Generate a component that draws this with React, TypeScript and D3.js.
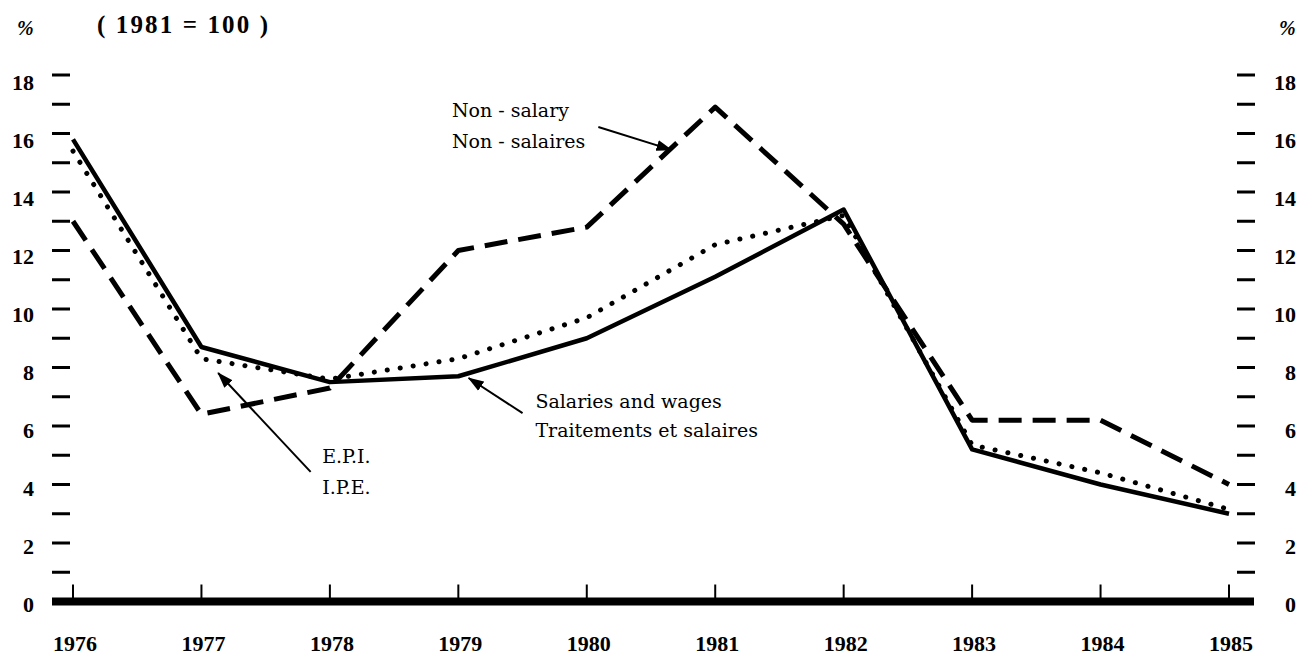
import React from 'react';
import * as d3 from 'd3';

// Annual % change (1981 = 100)
const years = [1976, 1977, 1978, 1979, 1980, 1981, 1982, 1983, 1984, 1985];
const salaries = [15.8, 8.7, 7.5, 7.7, 9.0, 11.1, 13.4, 5.2, 4.0, 3.0];
const epi = [15.4, 8.3, 7.6, 8.3, 9.7, 12.2, 13.2, 5.35, 4.4, 3.15];
const nonSalary = [13.0, 6.4, 7.3, 12.0, 12.8, 16.9, 12.9, 6.2, 6.2, 4.0];

const yLabels = [0, 2, 4, 6, 8, 10, 12, 14, 16, 18];

// annotation anchors in data space: [year, value]
const notes = [
  { lines: ['Non - salary', 'Non - salaires'], text: [1978.95, 16.56], lineGap: 1.06, tail: [1980.09, 16.22], tip: [1980.66, 15.44] },
  { lines: ['Salaries and wages', 'Traitements et salaires'], text: [1979.6, 6.62], lineGap: 1.0, tail: [1979.5, 6.44], tip: [1979.08, 7.64] },
  { lines: ['E.P.I.', 'I.P.E.'], text: [1977.94, 4.74], lineGap: 1.08, tail: [1977.85, 4.43], tip: [1977.13, 7.81] },
];

const W = 1298;
const H = 657;
const numFont = '"Liberation Serif", "Times New Roman", serif';
const noteFont = '"DejaVu Serif", serif';

export default function App() {
  const x = d3.scaleLinear().domain([1976, 1985]).range([73, 1229]);
  const y = d3.scaleLinear().domain([0, 18]).range([601.5, 75]);
  // labels sit slightly below their tick dashes in the original
  const yLab = d3.scaleLinear().domain([0, 18]).range([612, 90]);

  const line = d3.line<number>()
    .x((_, i) => x(years[i]))
    .y(d => y(d));

  const minor = y.ticks(18).filter(t => t > 0);

  return (
    <svg width={W} height={H} style={{ position: 'absolute', left: 0, top: 0, background: '#fff' }}>
      <defs>
        <marker id="head" markerUnits="userSpaceOnUse" viewBox="0 -6 16 12" refX={15} refY={0}
          markerWidth={16} markerHeight={12} orient="auto">
          <path d="M0,-5.5L16,0L0,5.5Z" fill="#000" />
        </marker>
      </defs>

      {/* header */}
      <text x={17} y={35} fontFamily={numFont} fontWeight="bold" fontStyle="italic" fontSize={20}>%</text>
      <text x={1279} y={35} fontFamily={numFont} fontWeight="bold" fontStyle="italic" fontSize={20}>%</text>
      <text x={97} y={33} fontFamily={numFont} fontWeight="bold" fontSize={25} textLength={171}
        lengthAdjust="spacing" xmlSpace="preserve">( 1981 = 100 )</text>

      {/* y ticks, both sides */}
      {minor.map(t => (
        <g key={t} stroke="#000" strokeWidth={3}>
          <line x1={52} x2={70} y1={y(t)} y2={y(t)} />
          <line x1={1237} x2={1255} y1={y(t)} y2={y(t)} />
        </g>
      ))}
      {yLabels.map(t => (
        <g key={t} fontFamily={numFont} fontWeight="bold" fontSize={22} textAnchor="end">
          <text x={34} y={yLab(t)}>{t}</text>
          <text x={1296} y={yLab(t)}>{t}</text>
        </g>
      ))}

      {/* baseline and year ticks */}
      <line x1={52} x2={1254} y1={y(0)} y2={y(0)} stroke="#000" strokeWidth={8} />
      {years.map(yr => (
        <g key={yr}>
          <line x1={x(yr)} x2={x(yr)} y1={y(0)} y2={y(0) - 17} stroke="#000" strokeWidth={2} />
          <text x={x(yr) + 2} y={651} textAnchor="middle" fontFamily={numFont} fontWeight="bold" fontSize={22}>{yr}</text>
        </g>
      ))}

      {/* series */}
      <path d={line(nonSalary) || ''} fill="none" stroke="#000" strokeWidth={5} strokeDasharray="23 11" strokeLinejoin="round" />
      <path d={line(epi) || ''} fill="none" stroke="#000" strokeWidth={5} strokeDasharray="0.1 13" strokeLinecap="round" />
      <path d={line(salaries) || ''} fill="none" stroke="#000" strokeWidth={4.5} strokeLinejoin="round" />

      {/* annotations */}
      {notes.map((n, i) => (
        <g key={i}>
          <line x1={x(n.tail[0])} y1={y(n.tail[1])} x2={x(n.tip[0])} y2={y(n.tip[1])}
            stroke="#000" strokeWidth={2} markerEnd="url(#head)" />
          {n.lines.map((s, j) => (
            <text key={j} x={x(n.text[0])} y={y(n.text[1] - j * n.lineGap)}
              fontFamily={noteFont} fontSize={19} fill="#000">{s}</text>
          ))}
        </g>
      ))}
    </svg>
  );
}
